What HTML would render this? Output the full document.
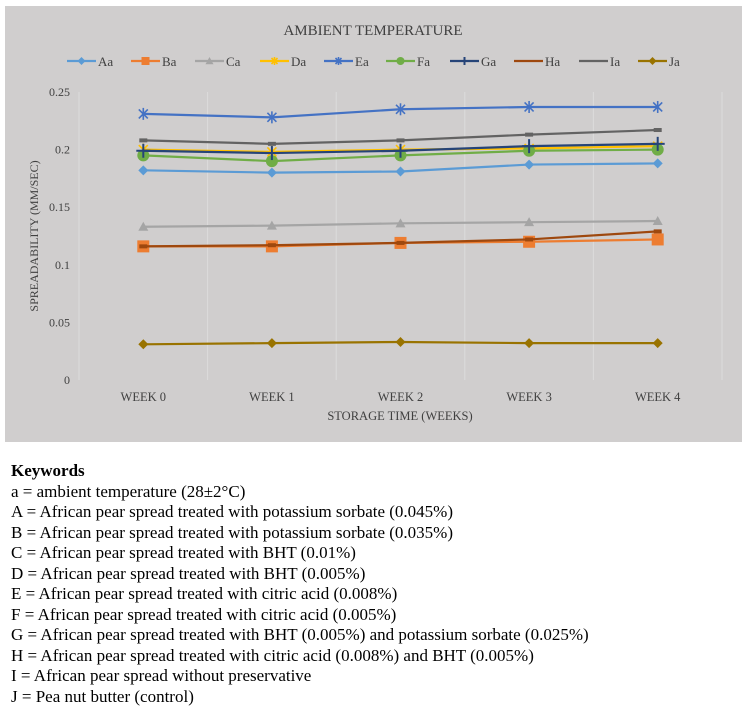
<!DOCTYPE html>
<html><head><meta charset="utf-8"><style>
body{margin:0;background:#fff;width:747px;height:713px;overflow:hidden;font-family:"Liberation Serif",serif;}
#chart{position:absolute;left:0;top:0;}
#keys{position:absolute;left:11px;top:461px;font-size:17px;line-height:20.5px;color:#000;}
#keys b{font-size:17px;}
</style></head><body>
<svg id="chart" width="747" height="450"></svg>
<div id="keys">
<div><b>Keywords</b></div>
<div>a = ambient temperature (28±2°C)</div>
<div>A = African pear spread treated with potassium sorbate (0.045%)</div>
<div>B = African pear spread treated with potassium sorbate (0.035%)</div>
<div>C = African pear spread treated with BHT (0.01%)</div>
<div>D = African pear spread treated with BHT (0.005%)</div>
<div>E = African pear spread treated with citric acid (0.008%)</div>
<div>F = African pear spread treated with citric acid (0.005%)</div>
<div>G = African pear spread treated with BHT (0.005%) and potassium sorbate (0.025%)</div>
<div>H = African pear spread treated with citric acid (0.008%) and BHT (0.005%)</div>
<div>I = African pear spread without preservative</div>
<div>J = Pea nut butter (control)</div>
</div>
<script>
const categories=["WEEK 0","WEEK 1","WEEK 2","WEEK 3","WEEK 4"];
const yTicks=[0,0.05,0.1,0.15,0.2,0.25];
const yTickLabels=["0","0.05","0.1","0.15","0.2","0.25"];
const seriesNames=["Aa","Ba","Ca","Da","Ea","Fa","Ga","Ha","Ia","Ja"];
const Aa=[0.182,0.180,0.181,0.187,0.188];
const Ba=[0.116,0.116,0.119,0.120,0.122];
const Ca=[0.133,0.134,0.136,0.137,0.138];
const Da=[0.200,0.198,0.200,0.201,0.203];
const Ea=[0.231,0.228,0.235,0.237,0.237];
const Fa=[0.195,0.190,0.195,0.199,0.200];
const Ga=[0.199,0.197,0.199,0.203,0.205];
const Ha=[0.116,0.117,0.119,0.122,0.129];
const Ia=[0.208,0.205,0.208,0.213,0.217];
const Ja=[0.031,0.032,0.033,0.032,0.032];
const seriesData=[Aa,Ba,Ca,Da,Ea,Fa,Ga,Ha,Ia,Ja];
const colors=["#5b9bd5","#ed7d31","#a5a5a5","#ffc000","#4472c4","#70ad47","#264478","#9e480e","#636363","#997300"];
const markers=["diamond","square","triangle","star","asterisk","circle","plus","dash","dash","diamond"];
const NS="http://www.w3.org/2000/svg";
const svg=document.getElementById('chart');
function mk(t,a,p){const e=document.createElementNS(NS,t);for(const k in a)e.setAttribute(k,a[k]);(p||svg).appendChild(e);return e;}
const L=79,R=722,T=92,B=380;
const xS=i=>L+(R-L)/categories.length*(i+0.5);
const yS=v=>B-(v/0.25)*(B-T);
let bg=mk('rect',{x:5,y:6,width:737,height:436,fill:'#d0cece'});


let ti=mk('text',{x:373,y:35,'text-anchor':'middle','font-size':15,fill:'#404040','font-family':'Liberation Serif'});
ti.textContent='AMBIENT  TEMPERATURE';


for(let i=0;i<=categories.length;i++){const x=L+(R-L)/categories.length*i;
 let g=mk('line',{x1:x,x2:x,y1:T,y2:B,stroke:'#dcdcdc','stroke-width':1});
 
 }
yTicks.forEach((v,i)=>{let t=mk('text',{x:70,y:yS(v)+4,'text-anchor':'end','font-size':12,fill:'#404040','font-family':'Liberation Serif'});t.textContent=yTickLabels[i];
 
 });
categories.forEach((c,i)=>{let t=mk('text',{x:xS(i),y:401,'text-anchor':'middle','font-size':12.5,fill:'#404040','font-family':'Liberation Serif'});t.textContent=c;
 
 });
let xt=mk('text',{x:400,y:420,'text-anchor':'middle','font-size':12.5,fill:'#404040','font-family':'Liberation Serif'});xt.textContent='STORAGE TIME (WEEKS)';


let yt=mk('text',{x:0,y:0,'text-anchor':'middle','font-size':12,fill:'#404040','font-family':'Liberation Serif',transform:'translate(38,236) rotate(-90)'});yt.textContent='SPREADABILITY  (MM/SEC)';


function marker(g,type,x,y,c,s){
 if(type==='diamond')mk('polygon',{points:`${x},${y-s} ${x+s},${y} ${x},${y+s} ${x-s},${y}`,fill:c},g);
 else if(type==='square')mk('rect',{x:x-s,y:y-s,width:2*s,height:2*s,fill:c},g);
 else if(type==='triangle')mk('polygon',{points:`${x},${y-s} ${x+s},${y+s*0.8} ${x-s},${y+s*0.8}`,fill:c},g);
 else if(type==='circle')mk('circle',{cx:x,cy:y,r:s,fill:c},g);
 else if(type==='plus'){mk('line',{x1:x,x2:x,y1:y-s,y2:y+s,stroke:c,'stroke-width':2},g);mk('line',{x1:x-s,x2:x+s,y1:y,y2:y,stroke:c,'stroke-width':2},g);}
 else if(type==='asterisk'||type==='star'){const a=s*0.75;mk('line',{x1:x-a,x2:x+a,y1:y-a,y2:y+a,stroke:c,'stroke-width':1.6},g);mk('line',{x1:x-a,x2:x+a,y1:y+a,y2:y-a,stroke:c,'stroke-width':1.6},g);mk('line',{x1:x,x2:x,y1:y-s,y2:y+s,stroke:c,'stroke-width':1.6},g);}
 else if(type==='dash')mk('rect',{x:x-s,y:y-2,width:2*s,height:4,fill:c},g);
}
const big=[5,6,5,6,6,6,7,4,4,5];
seriesData.forEach((d,si)=>{
 const g=mk('g',{});
 
 
 mk('polyline',{points:d.map((v,i)=>xS(i)+','+yS(v)).join(' '),fill:'none',stroke:colors[si],'stroke-width':2.2},g);
 d.forEach((v,i)=>marker(g,markers[si],xS(i),yS(v),colors[si],big[si]));
});
const legX=[67,131,195,260,324,386,450,514,579,638];
seriesNames.forEach((n,i)=>{
 const g=mk('g',{});
 
 
 const x=legX[i],y=61;
 mk('line',{x1:x,x2:x+29,y1:y,y2:y,stroke:colors[i],'stroke-width':2.2},g);
 marker(g,markers[i],x+14.5,y,colors[i],markers[i]==='dash'?0:4);
 const t=mk('text',{x:x+31,y:y+5,'font-size':13,fill:'#404040','font-family':'Liberation Serif'},g);t.textContent=n;
});
</script>
</body></html>
